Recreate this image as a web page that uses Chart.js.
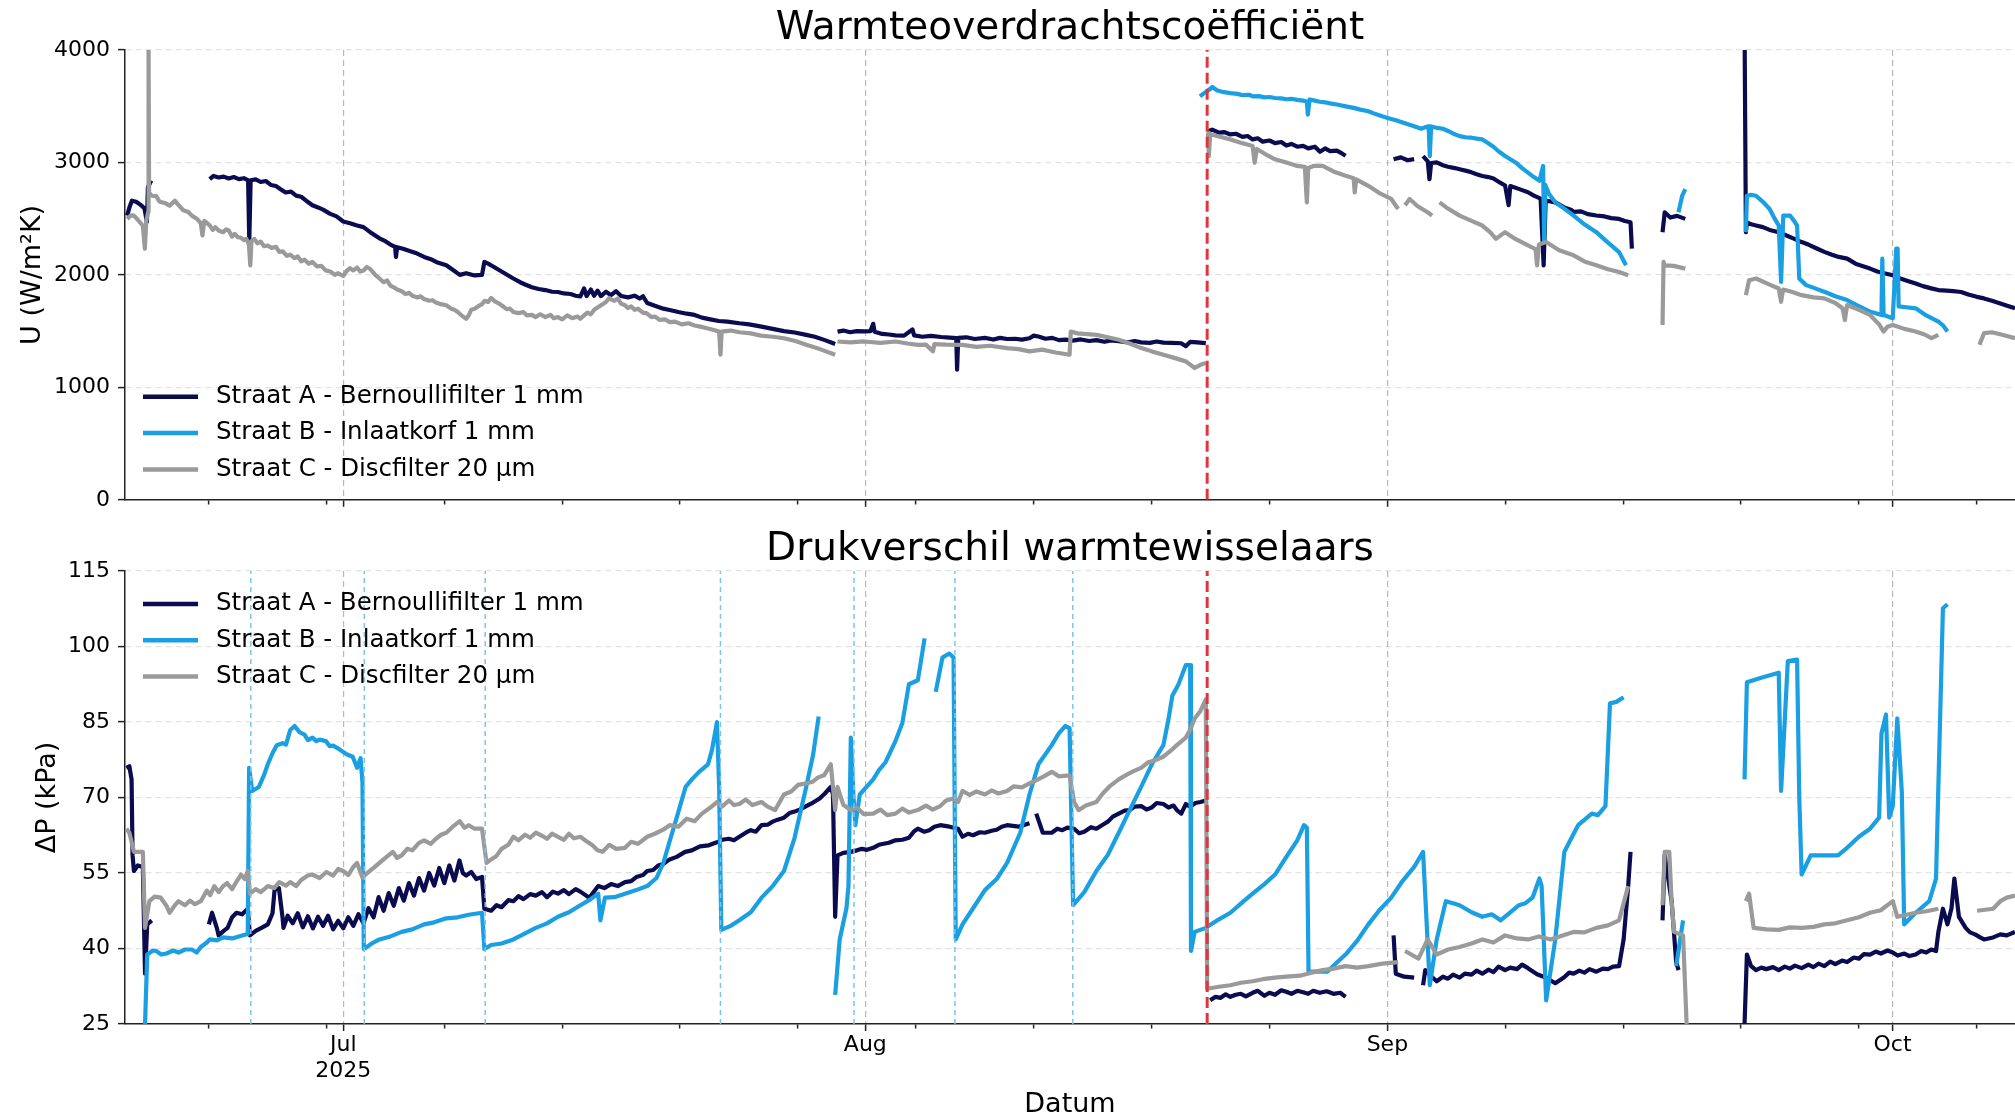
<!DOCTYPE html>
<html>
<head>
<meta charset="utf-8">
<title>Warmteoverdrachtscoëfficiënt en drukverschil</title>
<script src="https://cdn.jsdelivr.net/npm/chart.js@4.4.1/dist/chart.umd.min.js"></script>
<style>
  html, body { margin: 0; padding: 0; background: #fff; }
  body { width: 2015px; height: 1118px; overflow: hidden; position: relative; }
  .panel { position: absolute; left: 0; width: 2015px; }
  #top { top: 0; height: 521px; }
  #bottom { top: 521px; height: 597px; }
</style>
</head>
<body>
<div class="panel" id="top"><canvas id="chartU"></canvas></div>
<div class="panel" id="bottom"><canvas id="chartDP"></canvas></div>
<script>
// =======================
// DATA  (x = dagen t.o.v. 1 juli 2025 00:00)
// =======================

const xMin = -12.96;
const xMax = 99.27;

const monthTicks = [0, 31, 62, 92];
const monthLabels = [['Jul', '2025'], 'Aug', 'Sep', 'Oct'];
const weekTicks = [-8, -1, 6, 13, 20, 27, 34, 41, 48, 55, 62, 69, 76, 83, 90, 97];

const uTicks = [0, 1000, 2000, 3000, 4000];
const dpTicks = [25, 40, 55, 70, 85, 100, 115];

const seriesNames = ['Straat A - Bernoullifilter 1 mm', 'Straat B - Inlaatkorf 1 mm', 'Straat C - Discfilter 20 µm'];

// rode lijn (wissel) en reinigingen inlaatkorf
const switchDay = 51.30;
const basketDays = [-5.49, 1.25, 8.43, 22.40, 30.33, 36.32, 43.32];

// U (W/m2K)
const uA = [[-12.83,2527],[-12.7,2600],[-12.55,2660],[-12.3,2650],[-12.0,2620],[-11.8,2590],[-11.66,2470],[-11.6,2780],[-11.4,2840],[-11.35,null],
  [-7.93,2851],[-7.7,2880],[-7.4,2866],[-7.1,2874],[-6.8,2858],[-6.5,2870],[-6.2,2852],[-5.9,2860],[-5.65,2840],[-5.58,2292],[-5.5,2842],[-5.2,2850],[-4.9,2826],[-4.6,2835],[-4.3,2800],[-4.0,2790],[-3.7,2760],[-3.42,2733],[-3.1,2740],[-2.8,2705],[-2.5,2695],[-2.2,2660],[-1.83,2620],[-1.5,2600],[-1.2,2580],[-0.8,2545],[-0.4,2520],[0,2475],[0.4,2460],[0.82,2440],[1.2,2425],[1.6,2380],[2.15,2325],[2.5,2300],[2.8,2270],[3.08,2250],[3.13,2160],[3.2,2245],[3.5,2235],[3.9,2215],[4.3,2195],[4.8,2160],[5.2,2140],[5.6,2110],[6.12,2085],[6.5,2045],[6.92,2000],[7.3,2015],[7.8,1995],[8.24,2000],[8.38,2115],[8.6,2100],[8.9,2075],[9.4,2030],[9.8,1995],[10.1,1968],[10.5,1935],[10.8,1915],[11.2,1890],[11.6,1875],[12.0,1865],[12.4,1850],[12.75,1848],[13.1,1835],[13.5,1830],[13.8,1815],[14.08,1808],[14.3,1880],[14.45,1812],[14.7,1870],[14.9,1815],[15.1,1860],[15.3,1812],[15.6,1850],[15.9,1820],[16.2,1855],[16.5,1812],[16.9,1800],[17.3,1815],[17.6,1790],[17.8,1810],[18.05,1750],[18.5,1725],[19.0,1700],[19.38,1688],[19.9,1670],[20.4,1655],[20.86,1644],[21.3,1620],[21.8,1605],[22.3,1590],[22.8,1585],[23.52,1570],[24.1,1560],[24.84,1540],[25.5,1520],[26.17,1500],[26.8,1488],[27.49,1467],[28.0,1450],[28.6,1420],[29.21,1385],[29.28,null],
  [29.35,1496],[29.7,1505],[30.1,1490],[30.5,1500],[30.94,1498],[31.3,1500],[31.47,1565],[31.55,1495],[32.0,1475],[32.4,1470],[32.79,1462],[33.3,1460],[33.8,1515],[33.9,1462],[34.4,1450],[34.9,1458],[35.5,1448],[36.0,1442],[36.4,1437],[36.45,1158],[36.52,1440],[37.0,1445],[37.5,1430],[38.1,1440],[38.6,1425],[39.0,1440],[39.42,1430],[39.9,1432],[40.3,1425],[40.75,1437],[41.0,1460],[41.28,1452],[41.7,1432],[42.1,1440],[42.5,1420],[42.9,1425],[43.3,1415],[43.8,1426],[44.3,1412],[44.72,1420],[45.2,1405],[45.6,1418],[46.05,1410],[46.6,1400],[47.0,1412],[47.38,1400],[47.9,1396],[48.3,1408],[48.7,1398],[49.2,1395],[49.76,1392],[50.03,1366],[50.3,1405],[50.7,1400],[51.22,1393],[51.28,null],
  [51.35,3278],[51.6,3292],[52.0,3265],[52.3,3270],[52.68,3249],[53.0,3255],[53.4,3228],[53.7,3235],[54.0,3205],[54.3,3215],[54.6,3185],[55.0,3195],[55.33,3172],[55.7,3182],[56.0,3150],[56.3,3165],[56.65,3140],[57.0,3148],[57.3,3125],[57.7,3140],[58.0,3095],[58.3,3125],[58.6,3100],[59.0,3105],[59.3,3080],[59.52,3060],[59.6,null],
  [62.37,3028],[62.8,3045],[63.2,3020],[63.59,3030],[63.7,null],
  [64.12,3057],[64.4,3010],[64.5,2851],[64.6,2995],[64.93,3000],[65.3,2975],[65.6,2962],[66.0,2950],[66.29,2940],[66.7,2925],[67.0,2912],[67.3,2895],[67.64,2880],[68.0,2870],[68.3,2858],[68.7,2820],[68.99,2795],[69.2,2620],[69.3,2790],[69.8,2765],[70.35,2735],[70.7,2705],[71.1,2678],[71.28,2085],[71.4,2662],[71.97,2645],[72.5,2600],[72.9,2580],[73.06,2560],[73.5,2565],[73.9,2540],[74.41,2528],[74.9,2520],[75.3,2505],[75.76,2498],[76.1,2480],[76.44,2468],[76.52,2233],[76.6,null],
  [78.34,2380],[78.47,2557],[78.8,2510],[79.2,2525],[79.69,2498],[79.8,null],
  [83.22,4000],[83.29,2380],[83.35,2468],[83.6,2450],[83.89,2440],[84.3,2425],[84.7,2400],[85.24,2380],[85.7,2350],[86.1,2325],[86.6,2292],[87.0,2270],[87.5,2235],[87.95,2205],[88.4,2180],[88.8,2160],[89.3,2145],[89.8,2100],[90.2,2080],[90.66,2056],[91.1,2030],[91.5,2015],[92.01,1997],[92.5,1965],[92.9,1945],[93.37,1923],[93.8,1900],[94.3,1880],[94.72,1865],[95.2,1860],[95.6,1855],[96.07,1848],[96.5,1825],[97.0,1805],[97.43,1791],[97.9,1770],[98.4,1745],[98.8,1725],[99.27,1703]];

const uB = [[50.87,3588],[51.2,3625],[51.45,3650],[51.61,3672],[51.9,3640],[52.3,3625],[52.68,3617],[53.1,3610],[53.4,3598],[53.8,3602],[54.0,3588],[54.4,3590],[54.7,3578],[55.0,3582],[55.33,3573],[55.7,3570],[56.0,3562],[56.3,3566],[56.65,3556],[57.0,3550],[57.22,3540],[57.28,3426],[57.38,3560],[57.7,3550],[57.98,3540],[58.3,3535],[58.6,3525],[59.0,3515],[59.52,3499],[60.0,3485],[60.4,3470],[60.87,3455],[61.3,3430],[61.7,3410],[62.01,3396],[62.5,3375],[63.0,3350],[63.59,3322],[64.0,3300],[64.3,3315],[64.45,3322],[64.52,3057],[64.6,3320],[64.93,3308],[65.3,3300],[65.6,3280],[66.0,3250],[66.29,3234],[66.7,3222],[67.0,3220],[67.3,3212],[67.64,3205],[67.9,3180],[68.3,3140],[68.6,3100],[68.99,3057],[69.4,3020],[69.7,2990],[70.0,2950],[70.35,2910],[70.7,2870],[71.03,2837],[71.25,2969],[71.31,2292],[71.38,2800],[71.6,2720],[71.97,2645],[72.5,2590],[73.06,2527],[73.7,2450],[74.41,2380],[75.0,2300],[75.4,2250],[75.76,2203],[76.17,2085],[76.25,null],
  [79.29,2557],[79.5,2700],[79.69,2763],[79.8,null],
  [83.29,2380],[83.35,2704],[83.6,2712],[83.89,2704],[84.3,2650],[84.70,2586],[85.0,2500],[85.24,2439],[85.38,1938],[85.51,2527],[85.92,2527],[86.2,2470],[86.33,2439],[86.46,1967],[86.87,1909],[87.4,1880],[87.95,1850],[88.6,1810],[89.30,1776],[89.9,1730],[90.66,1673],[91.0,1660],[91.34,1644],[91.39,2144],[91.47,1644],[92.01,1614],[92.22,2233],[92.30,2233],[92.36,1720],[92.8,1712],[93.37,1703],[94.0,1640],[94.72,1585],[95.0,1550],[95.26,1496]];

const uC = [[-12.83,2498],[-12.6,2530],[-12.43,2527],[-12.2,2490],[-11.90,2439],[-11.78,2233],[-11.7,2480],[-11.58,2560],[-11.56,4000],[-11.53,2733],[-11.37,2704],[-11.11,2700],[-10.9,2650],[-10.6,2640],[-10.31,2616],[-10.0,2660],[-9.78,2620],[-9.5,2575],[-9.2,2560],[-8.99,2527],[-8.7,2500],[-8.46,2460],[-8.36,2351],[-8.25,2480],
  [-7.93,2440],[-7.75,2400],[-7.6,2425],[-7.4,2395],[-7.13,2380],[-6.95,2405],[-6.8,2395],[-6.6,2340],[-6.45,2365],[-6.25,2335],[-6.07,2330],[-5.9,2310],[-5.75,2320],[-5.6,2270],[-5.52,2085],[-5.45,2300],[-5.28,2320],[-5.1,2280],[-4.9,2295],[-4.7,2255],[-4.48,2262],[-4.25,2240],[-4.0,2250],[-3.8,2205],[-3.6,2210],[-3.35,2170],[-3.15,2180],[-2.9,2150],[-2.7,2165],[-2.5,2120],[-2.3,2135],[-2.05,2100],[-1.83,2115],[-1.55,2075],[-1.3,2080],[-1.05,2040],[-0.77,2030],[-0.5,2000],[-0.3,2015],[0,1990],[0.2,2035],[0.4,2060],[0.6,2040],[0.82,2065],[1.0,2030],[1.2,2040],[1.4,2070],[1.62,2050],[1.9,2000],[2.15,1968],[2.4,1935],[2.6,1950],[2.8,1905],[3.0,1890],[3.2,1870],[3.47,1855],[3.7,1830],[3.9,1840],[4.1,1815],[4.4,1800],[4.6,1810],[4.80,1785],[5.1,1770],[5.3,1775],[5.5,1755],[5.8,1740],[6.12,1730],[6.4,1700],[6.6,1690],[6.8,1670],[7.1,1630],[7.3,1610],[7.45,1640],[7.6,1690],[7.8,1700],[8.0,1720],[8.24,1740],[8.4,1770],[8.6,1760],[8.78,1795],[9.0,1765],[9.2,1750],[9.4,1730],[9.7,1695],[9.9,1700],[10.10,1670],[10.4,1660],[10.7,1670],[10.9,1640],[11.2,1645],[11.43,1625],[11.7,1650],[12.0,1625],[12.3,1645],[12.5,1615],[12.75,1625],[13.0,1605],[13.3,1640],[13.6,1615],[13.9,1630],[14.08,1610],[14.3,1640],[14.5,1665],[14.7,1650],[14.9,1690],[15.1,1710],[15.40,1740],[15.6,1760],[15.8,1795],[15.93,1780],[16.1,1770],[16.3,1790],[16.5,1745],[16.73,1730],[16.9,1705],[17.1,1720],[17.3,1690],[17.5,1700],[17.79,1665],[18.0,1660],[18.3,1625],[18.5,1630],[18.8,1600],[19.1,1605],[19.38,1580],[19.7,1585],[20.1,1560],[20.5,1570],[20.86,1550],[21.2,1540],[21.6,1525],[22.0,1510],[22.32,1496],[22.40,1290],[22.47,1496],[23.0,1505],[23.52,1490],[24.2,1480],[24.8,1460],[25.5,1450],[26.17,1437],[26.9,1410],[27.49,1378],[28.3,1340],[29.21,1290],[29.28,null],
  [29.35,1408],[30.1,1400],[30.94,1408],[31.9,1395],[32.79,1408],[33.5,1390],[34.12,1378],[34.6,1380],[35.02,1320],[35.1,1385],[35.8,1380],[36.77,1378],[37.6,1360],[38.4,1370],[39.42,1349],[40.1,1340],[40.75,1320],[41.5,1335],[42.3,1310],[43.13,1290],[43.20,1496],[43.6,1480],[44.72,1467],[45.4,1445],[46.05,1423],[46.7,1390],[47.38,1349],[48.0,1320],[48.70,1290],[49.4,1260],[50.03,1231],[50.56,1172],[50.9,1200],[51.22,1216],[51.28,null],
  [51.35,3264],[51.40,3057],[51.48,3250],[52.0,3230],[52.68,3205],[53.3,3175],[54.0,3146],[54.12,2998],[54.25,3120],[54.8,3070],[55.33,3028],[56.0,3000],[56.65,2969],[57.1,2960],[57.22,2645],[57.3,2950],[57.62,2969],[58.16,2969],[58.8,2920],[59.52,2881],[60.0,2860],[60.06,2733],[60.15,2850],[60.87,2792],[61.5,2730],[62.23,2675],[62.64,2586],[62.8,null],
  [63.05,2620],[63.32,2675],[63.8,2610],[64.39,2557],[64.66,2527],[64.8,null],
  [65.10,2645],[65.5,2600],[66.29,2527],[67.0,2480],[67.64,2439],[68.1,2380],[68.45,2321],[68.99,2380],[69.6,2320],[70.35,2262],[70.8,2230],[70.89,2085],[71.0,2270],[71.43,2292],[72.2,2220],[73.06,2174],[73.7,2120],[74.41,2085],[75.1,2050],[75.76,2026],[76.30,1997],[76.4,null],
  [78.34,1555],[78.40,2115],[78.47,2085],[79.0,2080],[79.69,2056],[79.8,null],
  [83.29,1820],[83.48,1953],[83.89,1968],[84.6,1920],[85.24,1879],[85.38,1761],[85.5,1870],[86.0,1850],[86.60,1820],[87.3,1800],[87.95,1791],[88.6,1750],[89.03,1703],[89.17,1599],[89.30,1732],[90.0,1690],[90.66,1644],[91.2,1560],[91.47,1496],[91.7,1540],[92.01,1555],[92.7,1520],[93.37,1496],[93.9,1470],[94.31,1437],[94.72,1467],[94.8,null],
  [97.16,1378],[97.43,1482],[97.9,1490],[98.51,1467],[99.27,1437]];

// dP (kPa)
const dpA = [[-12.88,75.9],[-12.70,76.2],[-12.57,73.6],[-12.51,58.5],[-12.43,55.4],[-12.2,56.5],[-11.90,56.2],[-11.77,35.0],[-11.64,44.8],[-11.37,45.6],[-11.3,null],
  [-7.98,44.8],[-7.79,47.1],[-7.5,44],[-7.40,42.6],[-7.1,43.5],[-6.87,44.1],[-6.6,46.2],[-6.34,47.1],[-6.0,46.8],[-5.67,47.9],[-5.54,42.6],[-5.2,43.5],[-4.8,44.2],[-4.48,44.8],[-4.2,47],[-4.08,51.6],[-3.82,52.0],[-3.6,46],
  [-3.55,44.1],[-3.3,46.5],[-3.0,45.0],[-2.7,47.0],[-2.4,44.2],[-2.1,46.4],[-1.8,44.0],[-1.5,46.3],[-1.2,44.5],[-0.9,46.5],[-0.6,43.8],[-0.3,45.5],[0,44.0],[0.3,46.2],[0.6,44.5],[0.9,46.8],[1.2,45.0],[1.5,48.0],[1.8,46.2],[2.1,50.2],[2.4,47.5],[2.7,51.0],[3.0,48.5],[3.3,52.0],[3.6,49.5],[3.9,53.0],[4.2,50.5],[4.5,54.0],[4.8,51.5],[5.1,55.0],[5.4,52.5],[5.7,56.0],[6.0,53.0],[6.3,56.5],[6.6,53.5],[6.9,57.5],[7.1,55.0],[7.3,54.5],[7.6,55.2],[7.9,53.8],[8.24,54.2],
  [8.38,47.9],[8.78,47.5],[9.1,48.6],[9.4,48.2],[9.8,49.6],[10.10,49.4],[10.4,50.4],[10.7,49.8],[11.1,50.8],[11.43,50.5],[11.8,51.2],[12.1,50.2],[12.45,51.3],[12.75,50.9],[13.1,51.6],[13.4,50.8],[13.8,51.8],[14.08,51.3],[14.61,50.1],[15.14,52.4],[15.5,52.0],[15.9,52.8],[16.3,52.4],[16.73,53.2],[17.1,53.4],[17.4,54.2],[17.8,54.6],[18.05,55.4],[18.4,55.6],[18.7,56.5],[19.0,56.8],[19.38,57.7],[19.8,58.2],[20.3,59.2],[20.7,59.5],[21.18,60.3],[21.7,60.5],[22.19,61.1],[22.5,61.6],[22.9,61.8],[23.2,61.5],[23.52,62.2],[23.9,63.0],[24.2,63.5],[24.5,63.2],[24.84,64.5],[25.2,64.6],[25.5,65.2],[25.8,65.6],[26.17,66.0],[26.5,66.9],[26.8,67.2],[27.1,67.6],[27.49,68.3],[27.9,69.0],[28.29,69.8],[28.6,70.8],[28.95,72.1],[29.08,70.6],[29.21,46.3],[29.35,58.5],[29.7,59],[30.14,59.2],[30.5,59.5],[30.8,59.8],[31.1,59.6],[31.47,60.0],[31.8,60.6],[32.1,60.8],[32.4,61.0],[32.79,61.5],[33.2,61.6],[33.59,62.0],[33.9,63.3],[34.12,63.8],[34.5,63.2],[34.8,63.5],[35.1,64.2],[35.45,64.5],[36.0,64.2],[36.51,63.8],[36.77,62.2],[37.1,62.8],[37.4,62.5],[37.8,63.1],[38.10,63.0],[38.5,63.4],[38.8,63.6],[39.1,64.2],[39.42,64.5],[40.1,64.2],[40.75,64.9],[40.9,null],
  [41.15,66.8],[41.54,63.0],[42.07,63.0],[42.4,63.8],[42.7,63.5],[43.0,64.0],[43.40,63.8],[43.7,62.9],[44.0,63.2],[44.4,64.1],[44.72,63.8],[45.1,64.6],[45.4,65.2],[45.7,66.2],[46.05,66.8],[46.4,67.4],[46.7,67.5],[47.0,68.2],[47.38,68.3],[47.7,67.6],[48.0,68.0],[48.3,68.9],[48.70,68.7],[49.0,68.0],[49.3,68.4],[49.5,67.5],[49.76,66.8],[50.03,68.7],[50.3,68.2],[50.6,68.9],[50.9,69.1],[51.22,69.4],[51.28,null],
  [51.48,29.7],[51.8,30.4],[52.1,30.2],[52.4,30.9],[52.68,30.4],[53.0,30.8],[53.3,31.0],[53.6,30.5],[54.0,31.2],[54.3,31.6],[54.7,30.6],[55.0,31.2],[55.33,30.8],[55.7,31.7],[56.0,31.4],[56.3,31.0],[56.65,31.6],[57.0,31.3],[57.3,31.0],[57.6,31.6],[57.98,31.2],[58.4,31.5],[58.8,31.0],[59.2,31.2],[59.52,30.4],[59.6,null],
  [62.37,42.6],[62.50,35.0],[63.0,34.4],[63.59,34.2],[63.7,null],
  [64.12,32.7],[64.25,35.7],[64.6,34.5],[64.93,33.5],[65.3,34.4],[65.6,34.0],[65.9,34.8],[66.29,34.2],[66.6,35.0],[67.0,34.8],[67.3,35.6],[67.64,35.0],[68.0,35.8],[68.3,35.3],[68.6,36.4],[68.99,35.7],[69.3,36.2],[69.7,35.9],[70.0,36.8],[70.35,36.1],[70.89,34.9],[71.43,34.2],[71.97,33.1],[72.5,34.3],[72.8,35.2],[73.06,35.0],[73.4,35.6],[73.7,35.2],[74.0,35.9],[74.41,35.4],[74.8,36.0],[75.1,35.9],[75.4,36.4],[75.76,36.5],[76.03,41.8],[76.30,52.4],[76.44,59.2],[76.5,null],
  [78.34,45.6],[78.47,58.5],[78.88,49.4],[79.15,37.3],[79.29,35.7],[79.35,null],
  [83.21,25],[83.35,38.8],[83.6,36.5],[83.89,35.7],[84.2,36.2],[84.5,35.9],[84.9,36.3],[85.24,35.7],[85.6,36.4],[85.9,36.0],[86.2,36.6],[86.60,36.1],[87.0,36.8],[87.3,36.3],[87.6,37.0],[87.95,36.5],[88.3,37.4],[88.6,36.9],[89.0,37.6],[89.30,37.3],[89.7,38.2],[90.0,38.0],[90.3,38.9],[90.66,38.8],[91.0,39.4],[91.3,39.0],[91.7,39.6],[92.01,39.2],[92.3,38.6],[92.7,39.0],[93.0,38.5],[93.37,38.8],[93.7,39.5],[94.0,39.2],[94.3,39.8],[94.58,39.5],[94.72,43.3],[94.99,47.9],[95.26,44.8],[95.5,48],[95.67,53.9],[95.94,46.3],[96.34,44.1],[96.6,43.2],[96.9,42.8],[97.2,42.2],[97.43,41.8],[97.97,42.2],[98.4,42.8],[98.78,42.6],[99.27,43.3]];

const dpB = [[-11.77,25],[-11.64,38.8],[-11.3,39.6],[-11.11,39.5],[-10.8,38.8],[-10.5,39.0],[-10.1,39.6],[-9.78,39.2],[-9.4,39.8],[-8.99,39.8],[-8.7,39.2],[-8.46,40.3],[-8.1,41.2],[-7.93,41.8],[-7.5,41.6],[-7.13,42.2],[-6.6,42.0],[-6.0,42.6],[-5.67,42.9],[-5.59,75.9],[-5.41,71.3],[-5.01,72.1],[-4.7,74.5],[-4.48,76.6],[-4.2,78.8],[-3.95,80.4],[-3.6,80.8],[-3.4,80.5],[-3.15,83.4],[-2.89,84.2],[-2.6,83],[-2.3,82.5],[-2.1,81.4],[-1.83,81.9],[-1.6,81.2],[-1.4,81.5],[-1.03,81.2],[-0.8,80.2],[-0.6,80.3],[-0.24,79.6],[0.2,78.6],[0.56,78.1],[0.82,75.9],[1.03,77.8],[1.14,73],[1.22,39.9],[1.7,41.0],[2.15,41.8],[2.8,42.4],[3.47,43.3],[4.1,43.8],[4.80,44.8],[5.4,45.2],[6.12,46.0],[6.8,46.2],[7.45,46.7],[8.24,47.1],[8.38,39.9],[8.78,40.7],[9.4,41.0],[10.10,41.8],[10.8,43.0],[11.43,44.1],[12.1,45.0],[12.75,46.3],[13.4,47.2],[14.08,48.6],[14.6,49.6],[15.14,50.9],[15.27,45.6],[15.54,50.1],[16.1,50.2],[16.73,50.9],[17.4,51.6],[18.05,52.4],[18.6,54],[19.01,57.0],[19.4,61.5],[19.80,66.0],[20.33,72.1],[20.7,73.6],[21.13,75.1],[21.66,76.6],[21.9,79.5],[22.19,85.0],[22.32,72.1],[22.45,43.7],[23.0,44.5],[23.52,45.6],[24.2,47.2],[24.84,50.1],[25.5,52.4],[26.17,55.4],[26.8,62],[27.49,72.1],[27.9,78.5],[28.23,86.1],[28.3,null],
  [29.21,30.8],[29.48,41.8],[29.88,48],[30.0,52.4],[30.14,81.9],[30.30,70],[30.41,64.5],[30.67,70.6],[31.1,72.2],[31.47,73.6],[31.8,75.4],[32.2,77],[32.79,81.2],[33.2,84.8],[33.59,92.5],[34.12,93.3],[34.52,101.6],[34.6,null],
  [35.18,91.0],[35.58,97.8],[35.98,98.6],[36.24,97.8],[36.37,41.8],[36.77,44.8],[37.4,48.0],[38.10,51.6],[38.8,53.8],[39.42,57.0],[40.2,63],[40.75,70.6],[41.28,76.6],[42.07,80.4],[42.5,82.8],[42.87,84.2],[43.13,83.8],[43.34,48.6],[44.0,51.2],[44.72,55.4],[45.4,58.6],[46.05,63.0],[46.7,67.5],[47.38,72.1],[48.0,76.5],[48.70,80.4],[49.0,85.5],[49.23,90.2],[49.6,92.5],[50.03,96.3],[50.29,96.3],[50.34,39.5],[50.56,43.3],[51.22,44.1],[52.0,45.8],[52.68,47.1],[53.4,49.2],[54.0,50.9],[54.7,52.8],[55.33,54.7],[56.0,58.2],[56.65,61.5],[57.05,64.5],[57.22,64.0],[57.32,35.4],[58.43,35.4],[59.0,37.2],[59.52,38.8],[60.2,41.5],[60.87,44.8],[61.5,47.5],[62.23,50.1],[62.9,53.4],[63.59,56.2],[64.12,59.2],[64.52,32.7],[64.93,41.8],[65.47,49.4],[65.9,49.0],[66.29,48.6],[67.0,47.2],[67.64,46.3],[68.2,46.8],[68.72,45.6],[69.3,47.2],[69.81,48.6],[70.2,49.0],[70.62,50.1],[71.03,53.9],[71.16,52.4],[71.43,29.7],[71.97,41.8],[72.51,59.2],[73.0,62.4],[73.33,64.5],[74.14,66.8],[74.5,66.5],[74.95,68.3],[75.22,88.7],[75.6,89.0],[76.03,89.9],[76.1,null],
  [79.15,36.5],[79.56,45.6],[79.6,null],
  [83.21,73.6],[83.35,92.9],[84.2,93.8],[85.24,94.8],[85.38,71.3],[85.78,97.1],[86.33,97.4],[86.46,70],[86.60,54.7],[87.14,58.5],[88.0,58.5],[88.76,58.5],[89.30,60.0],[90.0,62.2],[90.66,63.8],[91.20,66.0],[91.34,82.7],[91.61,86.5],[91.80,66.0],[92.01,68.3],[92.28,85.7],[92.55,71],[92.69,44.8],[93.37,47.1],[94.18,49.4],[94.58,53.9],[94.99,107.6],[95.26,108.4]];

const dpC = [[-12.88,63.8],[-12.70,63.0],[-12.43,59.2],[-11.90,59.2],[-11.77,44.1],
  [-11.51,49.4],[-11.2,50.3],[-10.84,50.1],[-10.5,48.5],[-10.31,47.1],[-10.0,48.6],[-9.78,49.4],[-9.4,48.6],[-9.1,49.5],[-8.8,48.8],[-8.46,49.4],[-8.1,51.5],[-7.9,50.6],[-7.66,52.4],[-7.4,51.2],[-7.13,52.4],[-6.9,53.0],[-6.6,51.8],[-6.3,53.5],[-6.07,54.7],[-5.85,53.8],[-5.67,55.4],[-5.54,50.9],[-5.2,51.8],[-4.9,51.2],[-4.48,52.4],[-4.1,52.0],[-3.8,53.2],[-3.4,52.5],[-3.15,53.2],[-2.8,52.4],[-2.5,53.6],[-2.1,54.5],[-1.83,54.7],[-1.4,54.0],[-1.0,55.2],[-0.6,54.5],[-0.3,55.8],[0,55.4],[0.3,54.6],[0.6,56.2],[0.82,57.0],[1.14,54.1],[1.5,55.2],[1.8,56.0],[2.15,57.0],[2.5,58.0],[2.94,59.2],[3.2,58.0],[3.47,58.5],[3.8,59.8],[4.1,59.5],[4.5,61.0],[4.80,61.5],[5.2,60.8],[5.5,61.8],[5.8,62.6],[6.12,63.0],[6.5,64.2],[6.92,65.3],[7.2,64.0],[7.45,64.5],[7.8,63.8],[8.24,63.8],
  [8.51,57.0],[8.78,57.7],[9.1,58.4],[9.4,59.8],[9.8,60.6],[10.10,62.2],[10.4,61.5],[10.8,62.6],[11.1,62.0],[11.43,63.0],[11.8,62.4],[12.1,61.8],[12.4,62.8],[12.75,62.2],[13.1,61.6],[13.4,62.8],[13.7,61.9],[14.08,62.2],[14.4,61.4],[14.8,60.5],[15.1,59.5],[15.40,59.2],[15.8,60.6],[16.2,59.8],[16.73,60.0],[17.1,61.2],[17.5,60.8],[18.05,62.2],[18.5,62.8],[19.0,63.6],[19.38,64.5],[19.9,64.2],[20.4,65.8],[20.86,65.3],[21.3,66.8],[21.8,68.0],[22.19,69.1],[22.5,68.2],[22.9,69.4],[23.2,68.5],[23.52,68.7],[23.9,69.6],[24.3,68.5],[24.84,69.1],[25.2,68.2],[25.64,67.5],[26.17,70.6],[26.6,71.2],[27.0,72.5],[27.49,72.8],[27.9,73.2],[28.2,74.0],[28.55,74.4],[28.95,76.6],[29.21,67.5],[29.35,72.1],[29.7,68.5],[30.14,67.5],[30.5,68.0],[30.9,66.7],[31.47,66.8],[31.9,67.6],[32.3,66.5],[32.79,66.8],[33.2,67.8],[33.6,67.0],[34.12,67.5],[34.6,68.4],[35.0,67.6],[35.45,68.3],[35.8,69.4],[36.24,69.8],[36.51,69.1],[36.77,71.3],[37.2,70.5],[37.6,71.2],[38.10,70.6],[38.5,71.4],[38.9,70.8],[39.42,71.3],[39.8,72.2],[40.3,72.0],[40.75,72.8],[41.2,73.5],[41.6,74.2],[42.07,75.1],[42.5,74.2],[43.13,74.4],[43.40,69.1],[43.66,67.5],[44.1,68.4],[44.72,69.1],[45.1,70.8],[45.5,72.2],[46.05,73.6],[46.5,74.5],[46.9,75.2],[47.38,75.9],[47.8,77.0],[48.2,77.4],[48.70,78.1],[49.1,79.2],[49.5,80.4],[50.03,81.9],[50.3,83.5],[50.56,85.7],[50.9,87.2],[51.22,89.5],[51.30,32.0],[52.0,32.4],[52.68,32.7],[53.3,33.2],[54.0,33.5],[54.6,33.9],[55.33,34.2],[56.0,34.4],[56.81,34.6],[57.5,35.2],[58.16,35.7],[58.8,36.0],[59.52,36.5],[60.2,36.2],[60.87,36.5],[61.7,37.0],[62.64,37.3],[62.8,null],
  [63.05,39.5],[63.85,38.0],[64.39,41.8],[64.93,38.8],[65.6,39.8],[66.29,40.3],[67.0,41.0],[67.64,41.8],[68.3,41.2],[68.99,42.6],[69.7,42.0],[70.35,41.8],[71.0,42.4],[71.70,41.8],[72.4,42.6],[73.06,43.3],[73.7,43.2],[74.41,44.1],[75.1,44.6],[75.76,45.6],[76.30,52.4],[76.4,null],
  [78.34,48.6],[78.47,59.2],[78.74,59.2],[78.88,49.4],[79.02,43.3],[79.56,42.6],[79.77,25],[79.8,null],
  [83.29,49.4],[83.48,50.9],[83.75,44.1],[84.5,43.8],[85.24,43.7],[85.9,44.2],[86.60,44.1],[87.3,44.3],[87.95,44.8],[88.6,45.0],[89.30,45.6],[90.0,46.2],[90.66,47.1],[91.3,47.6],[92.01,49.4],[92.28,46.3],[93.37,47.1],[94.0,47.4],[94.72,47.9],[94.8,null],
  [97.02,47.5],[97.97,47.9],[98.4,49.4],[98.78,50.1],[99.27,50.5]];

// =======================
// STYLE
// =======================

const FONT = '"DejaVu Sans", sans-serif';
const seriesColors = ['#0b0b50', '#1aa0e2', '#9a9a9a'];
const allXTicks = [...new Set([...weekTicks, ...monthTicks])].sort((a, b) => a - b);

Chart.defaults.font.family = FONT;
Chart.defaults.color = '#000';

function toPoints(pairs) {
  return pairs.map(([x, y]) => ({ x, y }));
}

function seriesDataset(i, pairs) {
  return {
    label: seriesNames[i],
    data: toPoints(pairs),
    borderColor: seriesColors[i],
    backgroundColor: seriesColors[i],
    borderWidth: 4.2,
    pointRadius: 0,
    tension: 0,
    spanGaps: false,
    borderJoinStyle: 'round',
    order: 3 - i
  };
}

function vLine(day, yMin, yMax, color, width, dash) {
  return {
    label: '',
    data: [{ x: day, y: yMin }, { x: day, y: yMax }],
    borderColor: color,
    borderWidth: width,
    borderDash: dash,
    pointRadius: 0,
    order: 0
  };
}

// legende in het plotvlak
const insideLegend = {
  id: 'insideLegend',
  afterDatasetsDraw(chart, args, opts) {
    const { ctx, chartArea } = chart;
    const base = opts.anchor === 'bottom' ? chartArea.bottom : chartArea.top;
    ctx.save();
    ctx.font = opts.fontSize + 'px ' + FONT;
    ctx.textBaseline = 'middle';
    ctx.textAlign = 'left';
    seriesNames.forEach((name, i) => {
      const y = base + opts.firstRow + i * opts.rowGap;
      ctx.beginPath();
      ctx.strokeStyle = seriesColors[i];
      ctx.lineWidth = 4.5;
      ctx.moveTo(chartArea.left + 18, y);
      ctx.lineTo(chartArea.left + 73, y);
      ctx.stroke();
      ctx.fillStyle = '#000';
      ctx.fillText(name, chartArea.left + 91, y);
    });
    ctx.restore();
  }
};

function xAxis(showLabels, height) {
  return {
    type: 'linear',
    min: xMin,
    max: xMax,
    afterBuildTicks: (scale) => { scale.ticks = allXTicks.map(v => ({ value: v })); },
    afterFit: (scale) => { scale.height = height; },
    ticks: {
      display: showLabels,
      autoSkip: false,
      maxRotation: 0,
      padding: 1,
      font: { size: 22 },
      color: '#000',
      callback: (value) => {
        const k = monthTicks.indexOf(value);
        return k >= 0 ? monthLabels[k] : '';
      }
    },
    grid: {
      color: (c) => (c.tick && monthTicks.includes(c.tick.value)) ? 'rgba(0,0,0,0.28)' : 'rgba(0,0,0,0)',
      lineWidth: 1.2,
      tickColor: '#222',
      tickWidth: 1.5,
      tickLength: 7,
      tickBorderDash: (c) => (c.tick && monthTicks.includes(c.tick.value)) ? [] : [4, 100]
    },
    border: { display: true, color: '#222', width: 1.5, dash: [6, 4] },
    title: showLabels
      ? { display: true, text: 'Datum', font: { size: 27, lineHeight: 1.0 }, color: '#000', padding: { top: 0, bottom: 0 } }
      : { display: false }
  };
}

function yAxis(ticksList, titleText, titlePad) {
  return {
    type: 'linear',
    min: ticksList[0],
    max: ticksList[ticksList.length - 1],
    afterBuildTicks: (scale) => { scale.ticks = ticksList.map(v => ({ value: v })); },
    afterFit: (scale) => { scale.width = 125; },
    ticks: {
      font: { size: 22 },
      color: '#000',
      padding: 8,
      callback: (v) => String(v)
    },
    grid: {
      color: 'rgba(0,0,0,0.11)',
      lineWidth: 1.2,
      tickColor: '#222',
      tickWidth: 1.5,
      tickLength: 7
    },
    border: { display: true, color: '#222', width: 1.5, dash: [6, 4] },
    title: { display: true, text: titleText, font: { size: 27 }, color: '#000', padding: { top: titlePad, bottom: 0 } }
  };
}

function baseOptions(titleText, xCfg, yCfg, legendCfg) {
  return {
    responsive: true,
    maintainAspectRatio: false,
    animation: false,
    events: [],
    layout: { padding: 0 },
    plugins: {
      legend: { display: false },
      tooltip: { enabled: false },
      title: {
        display: true,
        fullSize: false,
        text: titleText,
        font: { size: 39, weight: 'normal', lineHeight: 1.0 },
        color: '#000',
        padding: { top: 9, bottom: 2 }
      },
      insideLegend: legendCfg
    },
    scales: { x: xCfg, y: yCfg }
  };
}

// =======================
// CHARTS
// =======================

new Chart(document.getElementById('chartU'), {
  type: 'line',
  data: {
    datasets: [
      seriesDataset(0, uA),
      seriesDataset(1, uB),
      seriesDataset(2, uC),
      vLine(switchDay, uTicks[0], uTicks[uTicks.length - 1], '#e3343a', 3, [11, 5])
    ]
  },
  options: baseOptions('Warmteoverdrachtscoëfficiënt', xAxis(false, 21), yAxis(uTicks, 'U (W/m²K)', 16.5),
    { anchor: 'bottom', firstRow: -103, rowGap: 36.3, fontSize: 24.5 }),
  plugins: [insideLegend]
});

new Chart(document.getElementById('chartDP'), {
  type: 'line',
  data: {
    datasets: [
      seriesDataset(0, dpA),
      seriesDataset(1, dpB),
      seriesDataset(2, dpC),
      ...basketDays.map(d => vLine(d, dpTicks[0], dpTicks[dpTicks.length - 1], '#7cc4ec', 1.5, [5, 4])),
      vLine(switchDay, dpTicks[0], dpTicks[dpTicks.length - 1], '#e3343a', 3, [11, 5])
    ]
  },
  options: baseOptions('Drukverschil warmtewisselaars', xAxis(true, 94), yAxis(dpTicks, 'ΔP (kPa)', 31.5),
    { anchor: 'top', firstRow: 33, rowGap: 36.3, fontSize: 24.5 }),
  plugins: [insideLegend]
});
</script>
</body>
</html>
